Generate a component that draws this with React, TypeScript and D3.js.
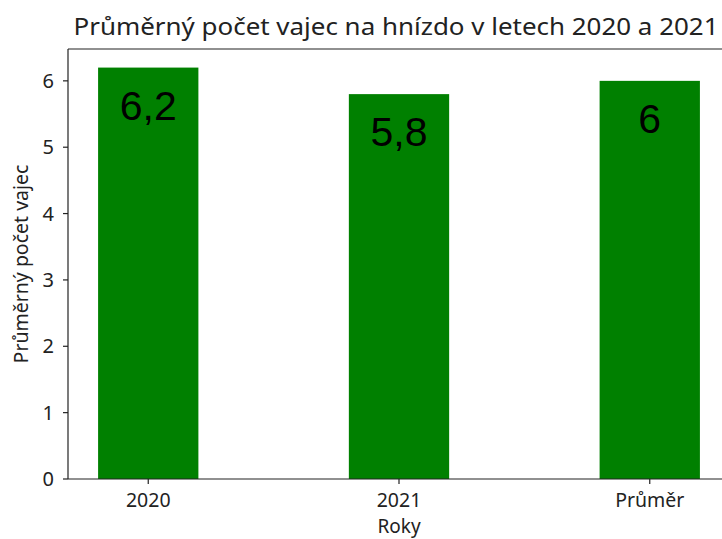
import React from "react";
import * as d3 from "d3";

const categories = ["2020", "2021", "Průměr"];
const values = [6.2, 5.8, 6];
const valueLabels = ["6,2", "5,8", "6"];
const yTicks = [0, 1, 2, 3, 4, 5, 6];

const W = 722;
const H = 539;
const left = 68;
const right = 730;
const top = 49;
const bottom = 479;

export default function App() {
  const x = d3.scaleLinear().domain([-0.32, 2.32]).range([left, right]);
  const y = d3.scaleLinear().domain([0, 6.48]).range([bottom, top]);
  const bw = x(0.4) - x(0);
  const font = "'Noto Sans', sans-serif";
  return (
    <svg width={W} height={H} style={{ position: "absolute", left: 0, top: 0, background: "#fff" }}>
      <rect x={0} y={0} width={W} height={H} fill="#fff" />
      {values.map((v, i) => (
        <rect key={i} x={x(i) - bw / 2} y={y(v)} width={bw} height={y(0) - y(v)} fill="#008000" />
      ))}
      {values.map((v, i) => (
        <text key={"l" + i} x={x(i)} y={y(v) + 52} textAnchor="middle" fontFamily="'Liberation Sans', Arial, sans-serif" fontSize={41} fill="#000">
          {valueLabels[i]}
        </text>
      ))}
      {/* spines */}
      <line x1={left} x2={left} y1={top} y2={bottom} stroke="#222" strokeWidth={1.2} />
      <line x1={left} x2={W} y1={bottom} y2={bottom} stroke="#222" strokeWidth={1.2} />
      <line x1={left} x2={W} y1={top} y2={top} stroke="#222" strokeWidth={1.2} />
      {yTicks.map((t) => (
        <g key={t}>
          <line x1={left - 5} x2={left} y1={y(t)} y2={y(t)} stroke="#222" strokeWidth={1.2} />
          <text x={left - 14} y={y(t) + 7} textAnchor="end" fontFamily={font} fontSize={20} fill="#222">
            {t}
          </text>
        </g>
      ))}
      {categories.map((c, i) => (
        <g key={c}>
          <line x1={x(i)} x2={x(i)} y1={bottom} y2={bottom + 5} stroke="#222" strokeWidth={1.2} />
          <text x={x(i)} y={507} textAnchor="middle" fontFamily={font} fontSize={19.5} fill="#222">
            {c}
          </text>
        </g>
      ))}
      <text x={x(1)} y={533} textAnchor="middle" fontFamily={font} fontSize={19} fill="#222">
        Roky
      </text>
      <text transform={`translate(28, ${(top + bottom) / 2}) rotate(-90)`} textAnchor="middle" fontFamily={font} fontSize={19.5} fill="#222">
        Průměrný počet vajec
      </text>
      <text x={396} y={35} textAnchor="middle" fontFamily={font} fontSize={23} textLength={645} lengthAdjust="spacingAndGlyphs" fill="#222">
        Průměrný počet vajec na hnízdo v letech 2020 a 2021
      </text>
    </svg>
  );
}
